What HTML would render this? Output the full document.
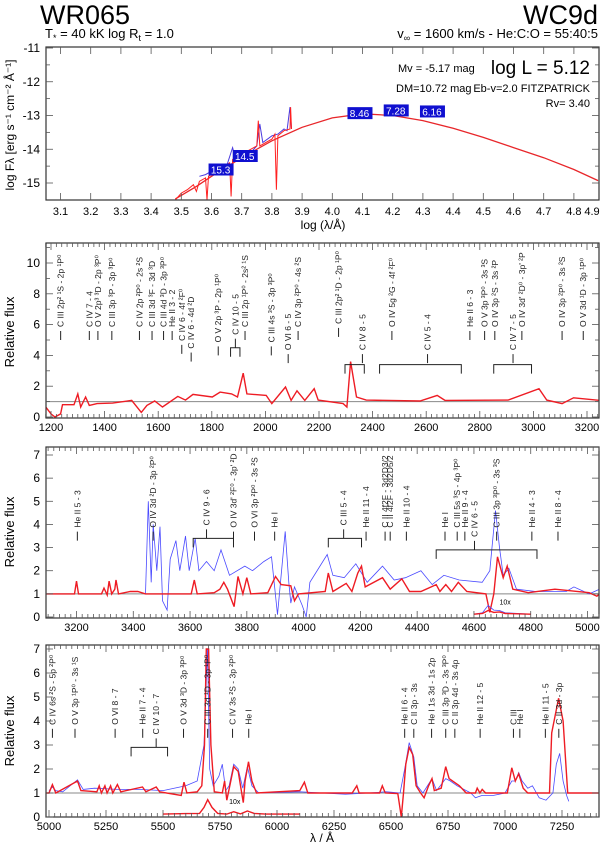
<!DOCTYPE html>
<html><head><meta charset="utf-8"><style>
body{margin:0;background:#fff;}
svg{display:block;font-family:"Liberation Sans",sans-serif;}
</style></head><body>
<svg id="c" width="600" height="845" xmlns="http://www.w3.org/2000/svg">
<text x="40" y="24" font-size="27">WR065</text>
<text x="45" y="38" font-size="13">T<tspan font-size="9" dy="3">*</tspan><tspan dy="-3"> =  40 kK   log R</tspan><tspan font-size="9" dy="3">t</tspan><tspan dy="-3"> = 1.0</tspan></text>
<text x="598" y="24" font-size="27" text-anchor="end">WC9d</text>
<text x="598" y="38" font-size="13" text-anchor="end">v<tspan font-size="9" dy="3">∞</tspan><tspan dy="-3"> = 1600 km/s - He:C:O = 55:40:5</tspan></text>
</svg>
<script>
const NS="http://www.w3.org/2000/svg";
const svg=document.getElementById('c');
function el(tag,attrs,parent){const e=document.createElementNS(NS,tag);for(const k in attrs)e.setAttribute(k,attrs[k]);(parent||svg).appendChild(e);return e;}

// ---------- Panel 1 data ----------
const sedModelLogLam=[3.48,3.55,3.6,3.7,3.8,3.9,4.0,4.1,4.2,4.3,4.4,4.5,4.6,4.7,4.8,4.88];
const sedModelLogF=[-15.47,-15.1,-14.8,-14.25,-13.75,-13.35,-13.07,-12.95,-13.0,-13.15,-13.38,-13.65,-13.95,-14.25,-14.6,-14.93];
const sedObsLogLam=[3.56,3.58,3.6,3.62,3.65,3.67,3.68,3.7,3.73,3.75,3.76,3.77,3.8,3.82,3.84,3.85,3.86,3.865];
const sedObsLogF=[-14.8,-14.75,-14.65,-14.6,-14.5,-13.95,-14.3,-14.2,-14.1,-13.9,-13.25,-13.8,-13.6,-13.55,-13.4,-13.45,-12.75,-13.4];
const sedSynLogLam=[3.48,3.5,3.52,3.54,3.55,3.56,3.58,3.585,3.59,3.62,3.66,3.665,3.67,3.7,3.72,3.75,3.755,3.76,3.8,3.81,3.815,3.82,3.84,3.86,3.862,3.865];
const sedSynLogF=[-15.5,-15.3,-15.2,-15.05,-15.25,-14.95,-14.85,-15.5,-14.8,-14.65,-14.4,-15.4,-14.3,-14.2,-14.05,-13.9,-13.15,-13.9,-13.7,-13.55,-15.2,-13.6,-13.45,-13.4,-12.75,-13.4];
const photLabels=["15.3","14.5","8.46","7.28","6.16"];
const photLogLam=[3.63,3.71,4.09,4.21,4.33];
const photLogF=[-14.6,-14.2,-12.93,-12.85,-12.88];

// ---------- Panel 2 data (UV) ----------
const uvWl=[1171,1200,1215,1236,1243,1286,1300,1311,1329,1343,1372,1430,1501,1537,1558,1587,1616,1673,1702,1730,1802,1831,1874,1896,1917,1931,2003,2024,2075,2096,2118,2147,2182,2197,2290,2304,2318,2340,2376,2577,2641,2670,2906,3021,3050,3107,3150,3248];
const uvFlux=[0.87,0.2,0,0.2,0.8,0.8,1.5,0.65,1.3,0.75,0.87,0.9,1.08,0.3,0.75,1.04,0.65,1.34,1.1,1.47,1.3,1.62,1.5,1.3,2.85,1.5,1.4,0.87,1.95,1.08,1.7,1.08,1.84,1.1,0.87,0.65,3.6,1.3,1.1,1.04,1.4,1.08,1.1,1.84,1.1,0.87,1.25,1.08];

// ---------- Panel 3 data (blue optical) ----------
const b3Wl=[3093,3193,3200,3207,3288,3297,3308,3315,3324,3335,3339,3348,3389,3416,3443,3604,3615,3625,3685,3705,3719,3732,3755,3769,3786,3800,3814,3874,3901,3921,3955,3968,3982,4076,4087,4103,4150,4170,4191,4204,4217,4278,4305,4346,4373,4413,4467,4480,4501,4521,4545,4575,4642,4656,4670,4683,4703,4717,4737,4791,4885,5006,5033,5042];
const b3Red=[1,1,1.55,1,1,1.25,0.95,1.55,1.0,1.2,1.6,1.0,1.1,1.1,1.0,1,1.6,1,1.05,1.2,1.5,1.2,0.45,1.75,1.0,1.7,1.0,1.05,1.75,1.4,1.35,0.7,1.0,1.1,1.9,1.1,1.45,1.1,1.9,2.2,1.3,1.7,1.2,1.65,1.1,1.1,1.4,1.1,1.4,1.1,1.5,1.1,1.0,0.2,1.0,2.6,1.7,2.2,1.2,1.05,1.2,1.05,0.9,1.0];
const b3ObsWl=[3443,3453,3463,3470,3483,3494,3503,3519,3530,3550,3564,3584,3597,3618,3631,3658,3685,3709,3739,3793,3820,3860,3887,3908,3935,3948,3955,3968,3995,4009,4022,4083,4103,4143,4184,4224,4278,4319,4359,4413,4453,4494,4548,4629,4656,4676,4690,4703,4723,4750,4818,4925,4952,5006,5042];
const b3Obs=[1,5.0,1.5,4.0,2.0,3.9,0.7,0.3,2.5,3.3,2.0,3.5,2.0,3.4,2.0,2.4,2.0,2.9,1.8,2.2,2.0,2.4,2.6,0.1,3.7,1.5,0.6,1.3,0.5,0.0,1.5,2.7,1.8,1.7,2.3,1.5,2.2,1.6,1.7,2.0,1.4,1.8,1.6,1.5,2.0,4.6,3.0,1.8,2.1,1.2,1.1,1.1,1.3,1.0,1.2];
const b3InsetWl=[4600,4630,4650,4670,4690,4710,4800];
const b3InsetRed=[0.12,0.15,0.28,0.2,0.22,0.15,0.12];
const b3InsetObs=[0.12,0.18,0.5,0.3,0.28,0.18,0.12];

// ---------- Panel 4 data (red optical) ----------
const r4Wl=[4975,5000,5015,5030,5125,5140,5210,5220,5230,5245,5255,5270,5280,5300,5315,5410,5425,5470,5485,5580,5592,5605,5650,5670,5682,5690,5700,5710,5725,5760,5770,5780,5795,5810,5830,5845,5852,5860,5875,5890,5910,6100,6120,6135,6330,6350,6360,6450,6462,6475,6530,6545,6555,6565,6580,6595,6610,6630,6645,6665,6680,6690,6720,6740,6755,6800,6830,6870,6878,6890,6900,6915,7010,7030,7045,7060,7080,7100,7195,7205,7235,7255,7275,7430];
const r4Red=[1,1,1.35,1.0,1.5,1.1,1.05,1.3,1.0,1.3,1.0,1.3,1.0,1.35,1.05,1.25,1.05,1.25,1.05,0.9,1.45,1.0,1.05,1.3,3.0,7.0,7.0,3.0,1.05,1.0,1.5,0.7,1.4,2.1,1.9,1.0,0.6,1.5,2.3,1.5,1.0,1.1,1.45,1.0,1.0,1.3,1.0,1.0,1.3,1.0,0.98,0.0,1.0,2.2,2.9,2.6,1.3,1.0,0.8,1.3,1.6,1.1,1.2,2.1,1.6,1.3,1.0,1.0,1.2,1.0,1.15,1.0,1.0,2.05,1.5,1.8,1.2,1.0,1.0,3.5,4.95,4.0,1.0,1.0];
const r4ObsWl=[5000,5015,5030,5060,5125,5150,5200,5300,5400,5500,5600,5650,5680,5695,5705,5720,5745,5760,5775,5790,5810,5830,5850,5870,5890,5920,6100,6200,6300,6400,6480,6540,6560,6580,6600,6615,6640,6680,6700,6740,6760,6790,6850,6870,6900,6950,7000,7030,7045,7060,7075,7100,7120,7150,7180,7210,7225,7240,7255,7270,7280];
const r4Obs=[1.1,1.25,1.1,1.05,1.55,1.15,1.2,1.15,1.15,1.1,1.3,1.5,3.0,7.0,2.0,1.3,1.7,2.2,1.1,1.3,2.2,2.0,1.2,2.1,1.3,1.0,1.05,1.0,0.95,1.0,1.05,1.0,2.0,3.1,2.5,1.3,1.0,1.6,1.1,1.6,1.5,1.3,1.0,0.8,0.9,0.9,1.0,1.5,1.5,1.85,1.5,1.2,1.3,0.8,0.7,1.0,2.2,2.65,1.5,0.9,0.65];
const r4InsetWl=[5500,5600,5660,5680,5696,5715,5740,5780,5810,5840,5870,5900,5950,6100];
const r4InsetRed=[0.12,0.14,0.15,0.4,0.72,0.4,0.15,0.12,0.22,0.13,0.25,0.15,0.12,0.12];

// ---------- Line identifications ----------
const uvIdWl=[1236,1343,1375,1427,1530,1577,1620,1652,1688,1723,1824,1888,1924,2022,2085,2122,2273,2362,2472,2605,2763,2818,2856,2924,2957,3107,3186];
const uvIdText=["C III 2p² ¹S - 2p ¹P⁰","C IV 7 - 4","O V 2p³ ³D - 2p ³P⁰","C III 3p ³P - 3p ³P⁰","C IV 2p ²P⁰ - 2s ²S","C III 3d ³F - 3d ³D","C III 4d ³D - 3p ³P⁰","He II 3 - 2","C IV 6 - 4f ²F⁰","C IV 6 - 4d ²D","O V 2p ³P - 2p ¹P⁰","C IV 10 - 5","C III 2p ¹P⁰ - 2s² ¹S","C III 4s ³S - 3p ³P⁰","O VI 6 - 5","C IV 3p ²P⁰ - 4s ²S","C III 2p² ¹D - 2p ¹P⁰","C IV 8 - 5","O IV 5g ²G - 4f ²F⁰","C IV 5 - 4","He II 6 - 3","O V 3p ³P⁰ - 3s ³S","O IV 3p ²S - 3s ²P","C IV 7 - 5","O IV 3d' ²D⁰ - 3p' ²P","O IV 3p ²P⁰ - 3s ²S","O V 3d ¹D - 3p ¹P⁰"];
const uvIdLevel=[5,5,5,5,5,5,5,5,4.1,3.6,4,4.5,5,4,3.5,5,5.2,3.5,5,3.5,5,5,5,3.5,5,5,5];
const b3IdWl=[3203,3470,3658,3753,3827,3898,4141,4220,4287,4305,4362,4498,4541,4568,4602,4680,4804,4896];
const b3IdText=["He II 5 - 3","O IV 3d ²D - 3p ²P⁰","C IV 9 - 6","O IV 3d' ²F⁰ - 3p' ²D","O VI 3p ²P⁰ - 3s ²S","He I","C III 5 - 4","He II 11 - 4","C II 4f2F - 3d2D3/2","C II 4f2F - 3d2D5/2","He II 10 - 4","He I","C III 5s ³S - 4p ³P⁰","He II 9 - 4","C IV 6 - 5","C III 3p ³P⁰ - 3s ³S","He II 4 - 3","He II 8 - 4"];
const b3IdLevel=[3.3,3.3,3.4,3.3,3.3,3.3,3.4,3.3,3.3,3.3,3.3,3.3,3.3,3.3,2.9,3.3,3.3,3.3];
const r4IdWl=[5015,5114,5290,5411,5470,5590,5696,5805,5876,6560,6600,6678,6740,6780,6891,7037,7065,7177,7236];
const r4IdText=["C IV 6s ²S - 5p ²P⁰","O V 3p ¹P⁰ - 3s ¹S","O VI 8 - 7","He II 7 - 4","C IV 10 - 7","O V 3d ³D - 3p ³P⁰","C III 3d ¹D - 3p ¹P⁰","C IV 3s ²S - 3p ²P⁰","He I","He II 6 - 4","C II 3p - 3s","He I 1s 3d - 1s 2p","C III 3p ³D - 3s ³P⁰","C II 3p 4d - 3s 4p","He II 12 - 5","C III","He I","He II 11 - 5","C II 3d - 3p"];
const r4IdLevel=[3.3,3.3,3.3,3.3,2.9,3.3,3.3,3.3,3.3,3.3,3.3,3.3,3.3,3.3,3.3,3.3,3.3,3.3,3.3];

// bracket groups: start, end, level
const uvBrStart=[2297,2426,2852,1870],uvBrEnd=[2369,2731,2993,1905],uvBrLevel=[3.4,3.4,3.4,4.5];
const b3BrStart=[3611,4087,4467],b3BrEnd=[3753,4204,4822],b3BrLevel=[3.4,3.4,2.9];
const r4BrStart=[5360],r4BrEnd=[5520],r4BrLevel=[2.9];

// ---------- helpers ----------
function linear(d0,d1,r0,r1){return v=>r0+(v-d0)*(r1-r0)/(d1-d0);}
function poly(xs,ys,X,Y,attrs,name,parent){
  let d='';for(let i=0;i<xs.length;i++)d+=(i?'L':'M')+X(xs[i]).toFixed(1)+','+Y(ys[i]).toFixed(1);
  const p=el('path',Object.assign({d:d,fill:'none'},attrs),parent);
  
  
  return p;
}
function frame(x0,y0,x1,y1,name){
  const g=el('g',{});
  
  
  const cp=el('clipPath',{id:name+'-clip'},g);
  el('rect',{x:x0,y:y0,width:x1-x0,height:y1-y0},cp);
  return g;
}
function border(g,x0,y0,x1,y1){const r=el('rect',{x:x0,y:y0,width:x1-x0,height:y1-y0,fill:'none',stroke:'#333','stroke-width':1.2},g);}
function xTicks(g,X,y0,y1,from,to,minor,major,labels,fmt,labY){
  for(let v=from;v<=to+1e-9;v+=minor){
    const x=X(v);const isMaj=Math.abs(Math.round(v/major)*major-v)<1e-6;
    const L=isMaj?7:4;
    el('line',{x1:x,x2:x,y1:y1,y2:y1-L,stroke:'#555','stroke-width':0.8},g);
    el('line',{x1:x,x2:x,y1:y0,y2:y0+L,stroke:'#555','stroke-width':0.8},g);
  }
  labels.forEach(v=>{const t=el('text',{x:X(v),y:labY,'font-size':11,'text-anchor':'middle'},g);t.textContent=fmt(v);});
}
function yTicks(g,Y,x0,x1,vals,minorVals){
  minorVals.forEach(v=>{const y=Y(v);el('line',{x1:x0,x2:x0+4,y1:y,y2:y,stroke:'#555','stroke-width':0.8},g);el('line',{x1:x1,x2:x1-4,y1:y,y2:y,stroke:'#555','stroke-width':0.8},g);});
  vals.forEach(v=>{const y=Y(v);el('line',{x1:x0,x2:x0+7,y1:y,y2:y,stroke:'#555','stroke-width':0.8},g);el('line',{x1:x1,x2:x1-7,y1:y,y2:y,stroke:'#555','stroke-width':0.8},g);
    const t=el('text',{x:x0-6,y:y+4,'font-size':12,'text-anchor':'end'},g);t.textContent=String(v);});
}
function ids(g,X,Y,wl,text,level){
  for(let i=0;i<wl.length;i++){
    const x=X(wl[i]),yb=Y(level[i]);
    const tk=el('line',{x1:x,x2:x,y1:yb,y2:yb-9,stroke:'#222','stroke-width':1},g);
    
    
    const t=el('text',{x:x+3,y:yb-13,'font-size':8.5,transform:'rotate(-90 '+(x+3)+' '+(yb-13)+')',fill:'#222'},g);
    t.textContent=text[i];
    
    
  }
}
function brackets(g,X,Y,s,e,l){
  for(let i=0;i<s.length;i++){const y=Y(l[i]);
    const b=el('path',{d:'M'+X(s[i])+','+(y+9)+'V'+y+'H'+X(e[i])+'V'+(y+9),fill:'none',stroke:'#222','stroke-width':1},g);
    
    }
}
function ytitle(txt,x,y){const t=el('text',{x:x,y:y,'font-size':13,'text-anchor':'middle',transform:'rotate(-90 '+x+' '+y+')'});t.textContent=txt;}

// ---------- Panel 1 ----------
(function(){
  const x0=46,x1=599,y0=47,y1=200;
  const X=linear(3.1,4.1,60.5,362.5),Y=linear(-11,-15,48,183);
  const g=frame(x0,y0,x1,y1,'sed-panel');
  const c=el('g',{'clip-path':'url(#sed-panel-clip)'},g);
  poly(sedModelLogLam,sedModelLogF,X,Y,{stroke:'#e8262a','stroke-width':1.3},'sed-model-continuum',c);
  poly(sedObsLogLam,sedObsLogF,X,Y,{stroke:'#4a3adf','stroke-width':1},'sed-observed-spectrum',c);
  poly(sedSynLogLam,sedSynLogF,X,Y,{stroke:'#ff2020','stroke-width':1},'sed-model-spectrum',c);
  for(let i=0;i<photLabels.length;i++){
    const cx=X(photLogLam[i]),cy=Y(photLogF[i]);
    const r=el('rect',{x:cx-12,y:cy-6,width:25,height:12,fill:'#1010d0'},c);
    
    
    const t=el('text',{x:cx,y:cy+4,'font-size':10,'text-anchor':'middle',fill:'#fff'},c);t.textContent=photLabels[i];
    
    
  }
  border(g,x0,y0,x1,y1);
  const tk=[];for(let v=3.1;v<=4.91;v+=0.1)tk.push(Math.round(v*10)/10);
  xTicks(g,X,y0,y1,3.1,4.85,0.1,0.1,tk.filter(v=>v<=4.85),v=>v.toFixed(1),215);
  const t49=el('text',{x:592,y:215,'font-size':11,'text-anchor':'middle'},g);t49.textContent='4.9';
  yTicks(g,Y,x0,x1,[-11,-12,-13,-14,-15],[-11.5,-12.5,-13.5,-14.5]);
  const xt=el('text',{x:323,y:229,'font-size':12,'text-anchor':'middle'},g);xt.textContent='log (λ/Å)';
  const yt=el('text',{x:14,y:125,'font-size':12,'text-anchor':'middle',transform:'rotate(-90 14 125)'},g);yt.textContent='log F\u03bb [erg s⁻¹ cm⁻² Å⁻¹]';
  const a=el('text',{x:398,y:72,'font-size':11},g);a.textContent='Mv = -5.17 mag';
  const b=el('text',{x:396,y:92,'font-size':11},g);b.textContent='DM=10.72 mag';
  const l=el('text',{x:590,y:74,'font-size':19,'text-anchor':'end'},g);l.textContent='log L = 5.12';
  const e=el('text',{x:590,y:92,'font-size':11,'text-anchor':'end'},g);e.textContent='Eb-v=2.0  FITZPATRICK';
  const rv=el('text',{x:590,y:107,'font-size':11,'text-anchor':'end'},g);rv.textContent='Rv= 3.40';
})();

// ---------- Spectrum panels ----------
function specPanel(name,x0,y0,x1,y1,X,Y,redWl,red,obsWl,obs,idWl,idT,idL,bs,be,bl,xFrom,xTo,minor,major,labels,yv,yminor,insetWl,insetRed,insetObs,insetLabelWl){
  const g=frame(x0,y0,x1,y1,name);
  const c=el('g',{'clip-path':'url(#'+name+'-clip)'},g);
  const one=el('line',{x1:x0,x2:x1,y1:Y(1),y2:Y(1),stroke:'#888','stroke-width':1},c);
  
  if(obs)poly(obsWl,obs,X,Y,{stroke:'#4a4aff','stroke-width':0.8},'observed-spectrum',c);
  poly(redWl,red,X,Y,{stroke:'#ee1c24','stroke-width':1.4},'model-spectrum',c);
  if(insetWl){
    if(insetObs)poly(insetWl,insetObs,X,Y,{stroke:'#4a4aff','stroke-width':0.8},'inset-observed-10x',c);
    poly(insetWl,insetRed,X,Y,{stroke:'#ee1c24','stroke-width':1.4},'inset-model-10x',c);
    const t=el('text',{x:X(insetLabelWl),y:Y(0.55),'font-size':7},c);t.textContent='10x';
  }
  ids(g,X,Y,idWl,idT,idL);
  brackets(g,X,Y,bs,be,bl);
  border(g,x0,y0,x1,y1);
  xTicks(g,X,y0,y1,xFrom,xTo,minor,major,labels,v=>String(v),y1+13);
  yTicks(g,Y,x0,x1,yv,yminor);
  return g;
}
specPanel('uv-panel',46,243,599,418,linear(1200,3200,51,587),linear(0,10,417,263),uvWl,uvFlux,null,null,uvIdWl,uvIdText,uvIdLevel,uvBrStart,uvBrEnd,uvBrLevel,1180,3240,20,200,[1200,1400,1600,1800,2000,2200,2400,2600,2800,3000,3200],[0,2,4,6,8,10],[1,3,5,7,9,11]);
ytitle('Relative flux',14,332);
specPanel('blue-panel',46,447,599,618,linear(3200,5000,76.5,587.5),linear(0,7,617,455),b3Wl,b3Red,b3ObsWl,b3Obs,b3IdWl,b3IdText,b3IdLevel,b3BrStart,b3BrEnd,b3BrLevel,3100,5040,20,200,[3200,3400,3600,3800,4000,4200,4400,4600,4800,5000],[0,1,2,3,4,5,6,7],[],b3InsetWl,b3InsetRed,b3InsetObs,4690);
ytitle('Relative flux',14,532);
specPanel('red-panel',46,645,599,817,linear(5000,7250,49,562),linear(0,7,817,649),r4Wl,r4Red,r4ObsWl,r4Obs,r4IdWl,r4IdText,r4IdLevel,r4BrStart,r4BrEnd,r4BrLevel,5000,7425,25,250,[5000,5250,5500,5750,6000,6250,6500,6750,7000,7250],[0,1,2,3,4,5,6,7],[],r4InsetWl,r4InsetRed,null,5790);
ytitle('Relative flux',14,731);
const xl=el('text',{x:322,y:842,'font-size':12,'text-anchor':'middle'});xl.textContent='λ / Å';


</script>
</body></html>
